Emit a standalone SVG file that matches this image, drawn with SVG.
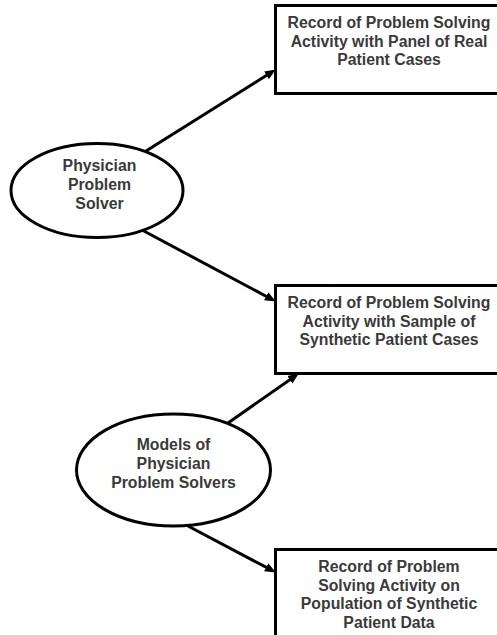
<svg xmlns="http://www.w3.org/2000/svg" width="497" height="635" viewBox="0 0 497 635">
<style>
  .shape { fill: #ffffff; stroke: #000000; stroke-width: 3; }
  .conn { fill: none; stroke: #000000; stroke-width: 3; }
  .lbl { font-family: "Liberation Sans", Arial, sans-serif; font-weight: bold; font-size: 15.8px; fill: #3a3a3a; text-anchor: middle; }
</style>
<defs>
  <marker id="arrow" markerUnits="userSpaceOnUse" markerWidth="11" markerHeight="10" viewBox="0 0 11 10" refX="4" refY="5" orient="auto">
    <path d="M0,0.5 L11,5 L0,9.5 z" fill="#000000"/>
  </marker>
</defs>
<rect width="497" height="635" fill="#ffffff"/>
<g id="connectors">
  <line class="conn" x1="146" y1="151" x2="269.9" y2="73.2" marker-end="url(#arrow)"/>
  <line class="conn" x1="142" y1="230" x2="269.7" y2="298.2" marker-end="url(#arrow)"/>
  <line class="conn" x1="228" y1="423" x2="293.1" y2="377.4" marker-end="url(#arrow)"/>
  <line class="conn" x1="188" y1="526" x2="269.7" y2="569.2" marker-end="url(#arrow)"/>
</g>
<g id="node-physician">
  <ellipse class="shape" cx="97" cy="190.5" rx="86" ry="47"/>
  <text class="lbl" x="99.5" y="171">Physician</text>
  <text class="lbl" x="99.5" y="190">Problem</text>
  <text class="lbl" x="99.5" y="209">Solver</text>
</g>
<g id="node-models">
  <ellipse class="shape" cx="173.5" cy="470" rx="97" ry="56"/>
  <text class="lbl" x="173.5" y="450">Models of</text>
  <text class="lbl" x="173.5" y="469">Physician</text>
  <text class="lbl" x="173.5" y="488">Problem Solvers</text>
</g>
<g id="node-real">
  <rect class="shape" x="275.5" y="5.5" width="228" height="88"/>
  <text class="lbl" x="389" y="28">Record of Problem Solving</text>
  <text class="lbl" x="389" y="46.5">Activity with Panel of Real</text>
  <text class="lbl" x="389" y="65">Patient Cases</text>
</g>
<g id="node-sample">
  <rect class="shape" x="275.5" y="285.5" width="228" height="88"/>
  <text class="lbl" x="389" y="308">Record of Problem Solving</text>
  <text class="lbl" x="389" y="326.5">Activity with Sample of</text>
  <text class="lbl" x="389" y="345">Synthetic Patient Cases</text>
</g>
<g id="node-population">
  <rect class="shape" x="275.5" y="549.5" width="228" height="100"/>
  <text class="lbl" x="389" y="572">Record of Problem</text>
  <text class="lbl" x="389" y="590.5">Solving Activity on</text>
  <text class="lbl" x="389" y="609">Population of Synthetic</text>
  <text class="lbl" x="389" y="627.5">Patient Data</text>
</g>
</svg>
